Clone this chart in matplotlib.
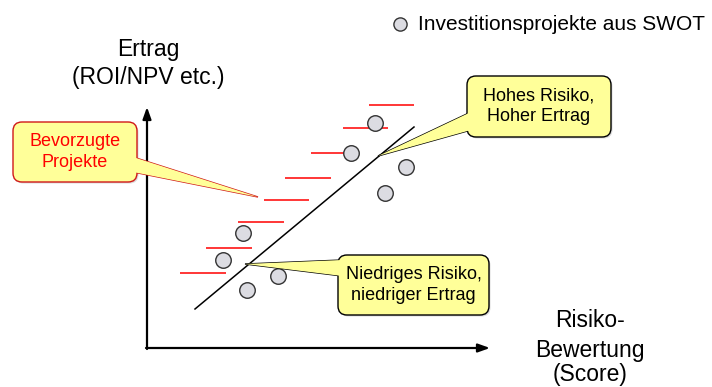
import matplotlib.pyplot as plt
from matplotlib.patches import FancyBboxPatch, Polygon

plt.rcParams['font.family'] = ['Liberation Sans', 'DejaVu Sans']

# projects: risk score (x) and return (y)
risk = [228, 204, 259, 238, 96, 76, 131, 100]
ertrag = [225, 195, 181, 155, 115, 88, 72, 58]

# red "preferred" marks: start, end, level
pref_x0 = [222, 196, 164, 138, 117, 91, 59, 33]
pref_x1 = [267, 241, 210, 184, 162, 137, 105, 79]
pref_y = [243, 220, 195, 170, 148, 126, 100, 75]

# trend line end points
trend_x = [48, 267]
trend_y = [39, 221]

YELLOW = '#FFFF99'

fig = plt.figure(figsize=(7.12, 3.87), dpi=100)
ax = fig.add_axes([0, 0, 1, 1])
ax.set_xlim(-147, 565)
ax.set_ylim(-39, 348)
ax.axis('off')

# axes with arrows
ax.annotate('', xy=(0, 241), xytext=(0, -1),
            arrowprops=dict(arrowstyle='-|>,head_length=0.7,head_width=0.25',
                            color='black', lw=1.6, shrinkA=0, shrinkB=0))
ax.annotate('', xy=(343, 0), xytext=(-1, 0),
            arrowprops=dict(arrowstyle='-|>,head_length=0.7,head_width=0.25',
                            color='black', lw=1.6, shrinkA=0, shrinkB=0))

ax.text(1, 292, 'Ertrag', ha='center', va='baseline', fontsize=16.5)
ax.text(1, 264, '(ROI/NPV etc.)', ha='center', va='baseline', fontsize=16.5)
for txt, yb in [('Risiko-', 21), ('Bewertung', -9), ('(Score)', -33)]:
    ax.text(443, yb, txt, ha='center', va='baseline', fontsize=16.5)

ax.plot(trend_x, trend_y, color='black', lw=1.1, zorder=2)
ax.hlines(pref_y, pref_x0, pref_x1, colors='red', lw=1.1, zorder=2)
ax.scatter(risk, ertrag, s=125, c='#DCDCE2', edgecolors='#333333',
           linewidths=1.0, zorder=3, label='Investitionsprojekte aus SWOT')

ax.legend(loc='center left', bbox_to_anchor=(0.544, 0.937), frameon=False,
          fontsize=15, handletextpad=0.25, borderpad=0, borderaxespad=0,
          handlelength=1.2, markerscale=0.85)


def callout(x0, y0, w, h, tail, text, edge, tcolor):
    shadow = FancyBboxPatch((x0 + 1.5, y0 - 1.5), w, h,
                            boxstyle='round,pad=0,rounding_size=9',
                            fc='#999999', ec='none', alpha=0.35, zorder=4)
    ax.add_patch(shadow)
    ax.add_patch(Polygon(tail, closed=True, fc=YELLOW, ec=edge, lw=1.0, zorder=5))
    box = FancyBboxPatch((x0, y0), w, h, boxstyle='round,pad=0,rounding_size=9',
                         fc=YELLOW, ec=edge, lw=1.0, zorder=6)
    ax.add_patch(box)
    ax.add_patch(Polygon(tail, closed=True, fc=YELLOW, ec='none', zorder=7))
    ax.text(x0 + w / 2, y0 + h / 2, text, ha='center', va='center',
            fontsize=13, color=tcolor, linespacing=1.25, zorder=8)


callout(-134, 166, 124, 60,
        [(-14, 191), (111, 151), (-14, 176)],
        'Bevorzugte\nProjekte', '#D01818', 'red')
callout(320, 211, 144, 61,
        [(324, 236), (231, 192), (324, 218)],
        'Hohes Risiko,\nHoher Ertrag', 'black', 'black')
callout(191, 33, 151, 60,
        [(195, 88), (98, 84), (195, 72)],
        'Niedriges Risiko,\nniedriger Ertrag', 'black', 'black')

fig.savefig('out.png', dpi=100)
